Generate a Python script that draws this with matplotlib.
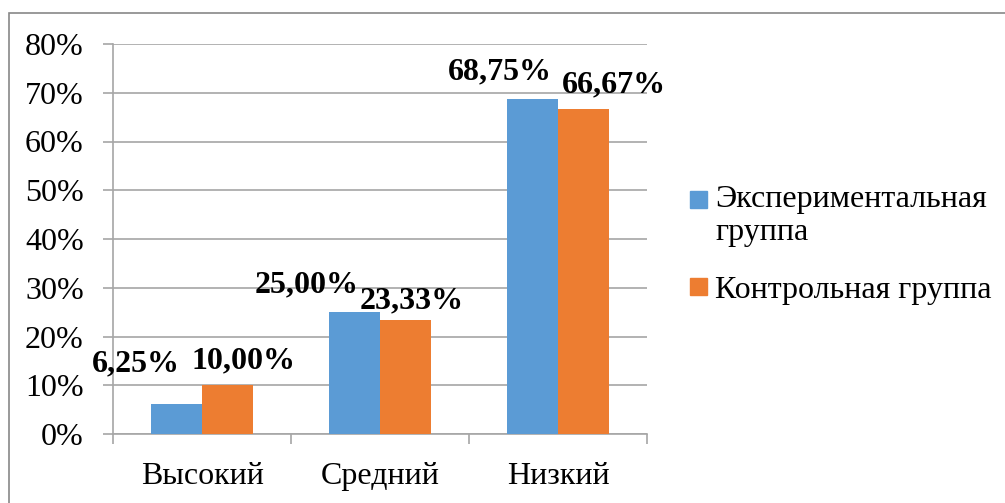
import numpy as np
import matplotlib.pyplot as plt
from matplotlib.patches import Rectangle

categories = ["Высокий", "Средний", "Низкий"]
series_names = ["Экспериментальная\nгруппа", "Контрольная группа"]
experimental = [6.25, 25.00, 68.75]
control = [10.00, 23.33, 66.67]
colors = ["#5B9BD5", "#ED7D31"]

# pixel offsets of each data label from the top of its bar (moved by hand in the original)
label_offsets = [[(-41, 40), (-48, 27), (-33, 27)],
                 [(16, 24), (6, 19), (30, 24)]]

plt.rcParams['font.family'] = ['Liberation Serif', 'DejaVu Serif']
FS = 23

W, H = 1005, 503
fig = plt.figure(figsize=(W / 100, H / 100), dpi=100)
ax = fig.add_axes([113 / W, 1 - 434 / H, (647 - 113) / W, (434 - 44) / H])

# chart border
fig.patches.append(Rectangle((9 / W, -0.5), 1.5, 1 - 13 / H + 0.5,
                             transform=fig.transFigure, fill=False,
                             edgecolor="#888888", linewidth=1.2))

x = np.arange(len(categories))
bw = 0.287
for i, (vals, col) in enumerate(zip([experimental, control], colors)):
    xs = x + (i - 0.5) * bw
    bars = ax.bar(xs, vals, width=bw, color=col, zorder=3)
    for b, v, off in zip(bars, vals, label_offsets[i]):
        ax.annotate(f"{v:.2f}%".replace(".", ","),
                    (b.get_x() + b.get_width() / 2, v),
                    xytext=off, textcoords="offset pixels",
                    ha="center", va="center", fontsize=FS,
                    fontweight="bold", zorder=5)

ax.set_xlim(-0.5, 2.5)
ax.set_ylim(0, 80)
ax.set_yticks(range(0, 81, 10))
ax.set_yticklabels([f"{t}%" for t in range(0, 81, 10)])
ax.yaxis.grid(True, color="#A6A6A6", linewidth=1.2, zorder=0)
ax.set_axisbelow(True)

ax.set_xticks(x)
ax.set_xticklabels(categories)
ax.set_xticks(np.arange(-0.5, 2.6, 1), minor=True)
ax.tick_params(axis="x", which="major", length=0, pad=20, labelsize=FS)
ax.tick_params(axis="x", which="minor", length=7, color="#A6A6A6", width=1.2)
ax.tick_params(axis="y", length=7, color="#A6A6A6", width=1.2, pad=14, labelsize=FS)

for s in ["top", "right"]:
    ax.spines[s].set_visible(False)
for s in ["left", "bottom"]:
    ax.spines[s].set_color("#A6A6A6")
    ax.spines[s].set_linewidth(1.2)

# legend
leg_x = 690 / W
sq_w, sq_h = 17 / W, 17 / H
fig.patches.append(Rectangle((leg_x, 1 - 208 / H), sq_w, sq_h, transform=fig.transFigure,
                             color=colors[0]))
fig.patches.append(Rectangle((leg_x, 1 - 295 / H), sq_w, sq_h, transform=fig.transFigure,
                             color=colors[1]))
fig.text(715 / W, 1 - 185 / H, series_names[0], fontsize=FS, va="top",
         linespacing=1.2)
fig.text(715 / W, 1 - 298 / H, series_names[1], fontsize=FS, va="baseline")

fig.savefig("out.png", dpi=100)
